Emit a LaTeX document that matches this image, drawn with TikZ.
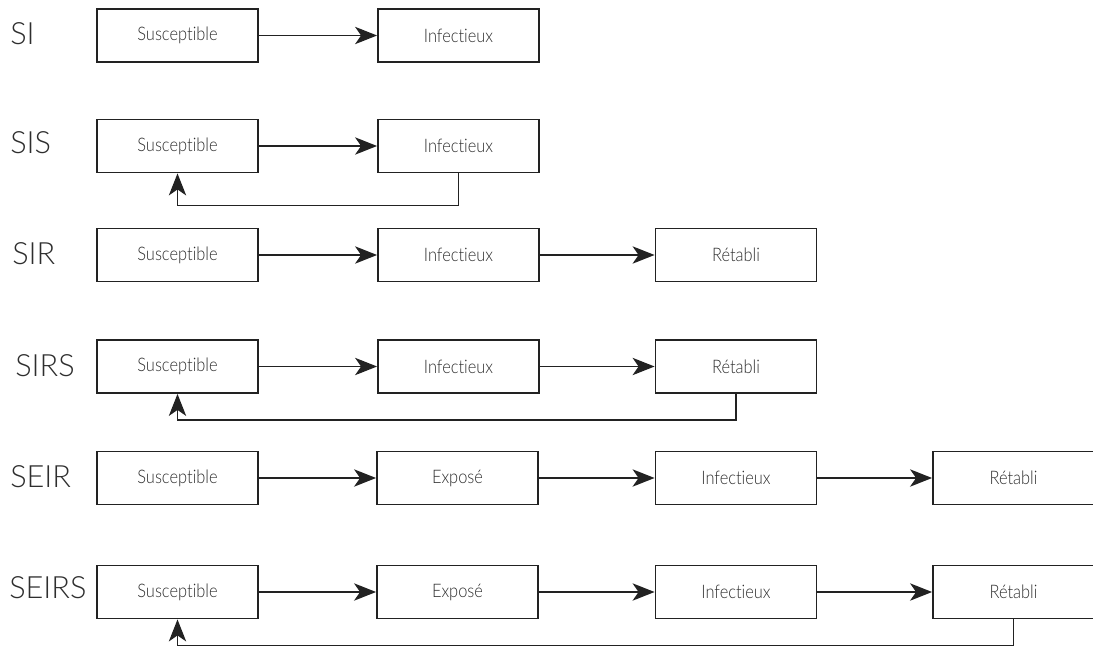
\documentclass[tikz,border=0pt]{standalone}
\usepackage{fontspec}
\setmainfont{Lato}[UprightFont=*-Light]
\newfontfamily\boxfont{Lato}[UprightFont=*-Light,FakeStretch=0.88,Ligatures={NoCommon}]
\usepackage{tikz}
\usetikzlibrary{arrows.meta}
\definecolor{inkgrey}{HTML}{2E2E2E}
\definecolor{linegrey}{HTML}{222222}

\tikzset{
  compart/.style={draw=linegrey,line width=1.4pt,minimum width=120.75pt,minimum height=39.75pt,
    inner sep=0pt,font=\boxfont\fontsize{14pt}{16pt}\selectfont,text=inkgrey},
  modelname/.style={anchor=west,inner sep=0pt,font=\fontsize{23pt}{26pt}\selectfont,text=inkgrey},
  flow/.style={draw=linegrey,line width=1.1pt,-{Stealth[length=16.5pt,width=13pt,inset=4.5pt]}}
}

\begin{document}
\begin{tikzpicture}[x=0.75pt,y=-0.75pt]
        \useasboundingbox (0,0) rectangle (1093,646);

        % SI
        \node[modelname] (lSI) at (10,34) {SI};
        \node[compart] (s1) at (177.5,35.5) {Susceptible};
        \node[compart] (i1) at (458.5,35.5) {Infectieux};
        \draw[flow] (s1) -- (i1);

        % SIS
        \node[modelname] (lSIS) at (10,143) {SIS};
        \node[compart] (s2) at (177.5,146) {Susceptible};
        \node[compart] (i2) at (458.5,146) {Infectieux};
        \draw[flow] (s2) -- (i2);
        \draw[flow] (i2.south) -- ++(0,32) -| (s2.south);

        % SIR
        \node[modelname] (lSIR) at (12,254) {SIR};
        \node[compart] (s3) at (177.5,255) {Susceptible};
        \node[compart] (i3) at (458.5,255) {Infectieux};
        \node[compart] (r3) at (736,255) {Rétabli};
        \draw[flow] (s3) -- (i3);
        \draw[flow] (i3) -- (r3);

        % SIRS
        \node[modelname] (lSIRS) at (15,366) {SIRS};
        \node[compart] (s4) at (177.5,366.5) {Susceptible};
        \node[compart] (i4) at (458.5,366.5) {Infectieux};
        \node[compart] (r4) at (736,366.5) {Rétabli};
        \draw[flow] (s4) -- (i4);
        \draw[flow] (i4) -- (r4);
        \draw[flow] (r4.south) -- ++(0,26) -| (s4.south);

        % SEIR
        \node[modelname] (lSEIR) at (10,477) {SEIR};
        \node[compart] (s5) at (177.5,478) {Susceptible};
        \node[compart] (e5) at (457.5,478) {Exposé};
        \node[compart] (i5) at (736,478) {Infectieux};
        \node[compart] (r5) at (1013.5,478) {Rétabli};
        \draw[flow] (s5) -- (e5);
        \draw[flow] (e5) -- (i5);
        \draw[flow] (i5) -- (r5);

        % SEIRS
        \node[modelname] (lSEIRS) at (9,588) {SEIRS};
        \node[compart] (s6) at (177.5,592) {Susceptible};
        \node[compart] (e6) at (457.5,592) {Exposé};
        \node[compart] (i6) at (736,592) {Infectieux};
        \node[compart] (r6) at (1013.5,592) {Rétabli};
        \draw[flow] (s6) -- (e6);
        \draw[flow] (e6) -- (i6);
        \draw[flow] (i6) -- (r6);
        \draw[flow] (r6.south) -- ++(0,26) -| (s6.south);
    \end{tikzpicture}
\end{document}
